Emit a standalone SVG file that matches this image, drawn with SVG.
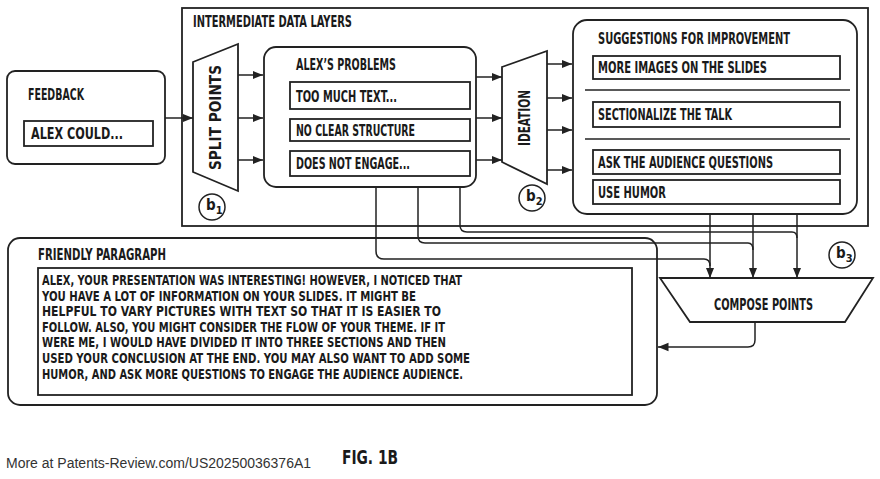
<svg xmlns="http://www.w3.org/2000/svg" width="880" height="479" viewBox="0 0 880 479">
<defs>
<style>
.b{fill:#fff;stroke:#222;stroke-width:1.8}
.i{fill:#fff;stroke:#222;stroke-width:1.8}
.t{font-family:"DejaVu Sans Condensed","DejaVu Sans",sans-serif;font-weight:bold;font-size:15px;fill:#1a1a1a}
.c{fill:none;stroke:#222;stroke-width:1.5}
.p{font-family:"DejaVu Sans Condensed","DejaVu Sans",sans-serif;font-weight:bold;font-size:14.5px;fill:#1a1a1a}
.s{font-size:11px}
</style>
<marker id="a" viewBox="0 0 10 10" refX="10" refY="5" markerWidth="7" markerHeight="7" orient="auto"><path d="M0,1 L10,5 L0,9 Z" fill="#222"/></marker>
</defs>
<rect width="880" height="479" fill="#fff"/>
<g id="intermediate"><rect class="b" x="182" y="8" width="686" height="218"/><text class="t" x="193" y="27" textLength="159" lengthAdjust="spacingAndGlyphs">INTERMEDIATE DATA LAYERS</text></g>
<g id="feedback"><rect class="b" x="7" y="71" width="158" height="93" rx="8"/><text class="t" x="28" y="100" textLength="56" lengthAdjust="spacingAndGlyphs">FEEDBACK</text><rect class="i" x="24" y="121" width="129" height="25"/><text class="t" x="31" y="139" textLength="92" lengthAdjust="spacingAndGlyphs">ALEX COULD...</text></g>
<g id="split"><polygon class="b" points="193,62 238,44 238,191 193,172"/><text class="t" transform="translate(221,118) rotate(-90)" x="-52" textLength="105" lengthAdjust="spacingAndGlyphs">SPLIT POINTS</text></g>
<g id="problems"><rect class="b" x="264" y="47" width="212" height="140" rx="12"/><text class="t" x="296" y="70" textLength="100" lengthAdjust="spacingAndGlyphs">ALEX’S PROBLEMS</text>
<rect class="i" x="290" y="82" width="180" height="27"/><text class="t" x="296" y="102" textLength="101" lengthAdjust="spacingAndGlyphs">TOO MUCH TEXT...</text>
<rect class="i" x="290" y="119" width="180" height="22"/><text class="t" x="296" y="136" textLength="119" lengthAdjust="spacingAndGlyphs">NO CLEAR STRUCTURE</text>
<rect class="i" x="290" y="151" width="180" height="25"/><text class="t" x="296" y="169" textLength="114" lengthAdjust="spacingAndGlyphs">DOES NOT ENGAGE...</text></g>
<g id="ideation"><polygon class="b" points="502,67 547,51 547,184 502,162"/><text class="t" transform="translate(530,118) rotate(-90)" x="-28" textLength="56" lengthAdjust="spacingAndGlyphs">IDEATION</text></g>
<g id="suggestions"><rect class="b" x="573" y="20" width="284" height="194" rx="14"/><text class="t" x="598" y="44" textLength="192" lengthAdjust="spacingAndGlyphs">SUGGESTIONS FOR IMPROVEMENT</text>
<rect class="i" x="593" y="56" width="247" height="23"/><text class="t" x="598" y="73" textLength="169" lengthAdjust="spacingAndGlyphs">MORE IMAGES ON THE SLIDES</text>
<line class="c" x1="585" y1="90" x2="850" y2="90"/>
<rect class="i" x="593" y="102" width="247" height="25"/><text class="t" x="598" y="120" textLength="134" lengthAdjust="spacingAndGlyphs">SECTIONALIZE THE TALK</text>
<line class="c" x1="585" y1="139" x2="850" y2="139"/>
<rect class="i" x="593" y="150" width="247" height="24"/><text class="t" x="598" y="168" textLength="175" lengthAdjust="spacingAndGlyphs">ASK THE AUDIENCE QUESTIONS</text>
<rect class="i" x="593" y="180" width="247" height="24"/><text class="t" x="598" y="198" textLength="68" lengthAdjust="spacingAndGlyphs">USE HUMOR</text></g>
<g id="compose"><polygon class="b" points="660,278 873,278 845,322 690,322"/><text class="t" x="714" y="310" textLength="99" lengthAdjust="spacingAndGlyphs">COMPOSE POINTS</text></g>
<g id="friendly"><rect class="b" x="8" y="238" width="649" height="167" rx="12"/><text class="t" x="38" y="260" textLength="128" lengthAdjust="spacingAndGlyphs">FRIENDLY PARAGRAPH</text>
<rect class="i" x="38" y="268" width="594" height="127"/>
<text class="p" x="42" y="285" textLength="420" lengthAdjust="spacingAndGlyphs">ALEX, YOUR PRESENTATION WAS INTERESTING! HOWEVER, I NOTICED THAT</text>
<text class="p" x="42" y="301" textLength="374" lengthAdjust="spacingAndGlyphs">YOU HAVE A LOT OF INFORMATION ON YOUR SLIDES. IT MIGHT BE</text>
<text class="p" x="42" y="316" textLength="399" lengthAdjust="spacingAndGlyphs">HELPFUL TO VARY PICTURES WITH TEXT SO THAT IT IS EASIER TO</text>
<text class="p" x="42" y="332" textLength="403" lengthAdjust="spacingAndGlyphs">FOLLOW. ALSO, YOU MIGHT CONSIDER THE FLOW OF YOUR THEME. IF IT</text>
<text class="p" x="42" y="347" textLength="404" lengthAdjust="spacingAndGlyphs">WERE ME, I WOULD HAVE DIVIDED IT INTO THREE SECTIONS AND THEN</text>
<text class="p" x="42" y="363" textLength="428" lengthAdjust="spacingAndGlyphs">USED YOUR CONCLUSION AT THE END. YOU MAY ALSO WANT TO ADD SOME</text>
<text class="p" x="42" y="379" textLength="421" lengthAdjust="spacingAndGlyphs">HUMOR, AND ASK MORE QUESTIONS TO ENGAGE THE AUDIENCE AUDIENCE.</text></g>
<g id="labels">
<circle class="c" cx="212" cy="207" r="13"/><text class="t" x="206" y="210" font-size="14">b<tspan class="s" dy="4">1</tspan></text>
<circle class="c" cx="532" cy="198" r="13"/><text class="t" x="526" y="201" font-size="14">b<tspan class="s" dy="4">2</tspan></text>
<circle class="c" cx="842" cy="255" r="13"/><text class="t" x="836" y="258" font-size="14">b<tspan class="s" dy="4">3</tspan></text>
</g>
<g id="connectors">
<line class="c" x1="165" y1="118" x2="193" y2="118" marker-end="url(#a)"/>
<line class="c" x1="238" y1="75" x2="263" y2="75" marker-end="url(#a)"/>
<line class="c" x1="238" y1="118" x2="263" y2="118" marker-end="url(#a)"/>
<line class="c" x1="238" y1="160" x2="263" y2="160" marker-end="url(#a)"/>
<line class="c" x1="476" y1="77" x2="502" y2="77" marker-end="url(#a)"/>
<line class="c" x1="476" y1="118" x2="502" y2="118" marker-end="url(#a)"/>
<line class="c" x1="476" y1="160" x2="502" y2="160" marker-end="url(#a)"/>
<line class="c" x1="547" y1="64" x2="572" y2="64" marker-end="url(#a)"/>
<line class="c" x1="547" y1="98" x2="572" y2="98" marker-end="url(#a)"/>
<line class="c" x1="547" y1="130" x2="572" y2="130" marker-end="url(#a)"/>
<line class="c" x1="547" y1="170" x2="572" y2="170" marker-end="url(#a)"/>
<line class="c" x1="710" y1="214" x2="710" y2="278" marker-end="url(#a)"/>
<line class="c" x1="753" y1="214" x2="753" y2="278" marker-end="url(#a)"/>
<line class="c" x1="797" y1="214" x2="797" y2="278" marker-end="url(#a)"/>
<path class="c" d="M376,187 V251 Q376,259 384,259 H704 Q710,259 710,266"/>
<path class="c" d="M418,187 V236 Q418,243 425,243 H748 Q753,243 753,250"/>
<path class="c" d="M460,187 V225 Q460,232 467,232 H792 Q797,232 797,238"/>
<path class="c" d="M755,322 V340 Q755,347 748,347 H658" marker-end="url(#a)"/>
</g>
<text x="342" y="464" textLength="56" lengthAdjust="spacingAndGlyphs" style="font-family:'DejaVu Sans Condensed','DejaVu Sans',sans-serif;font-weight:bold;font-size:20px;fill:#1a1a1a">FIG. 1B</text>
<text x="6" y="468" style="font-family:'Liberation Sans',Arial,sans-serif;font-size:14px;fill:#333">More at Patents-Review.com/US20250036376A1</text>
</svg>
